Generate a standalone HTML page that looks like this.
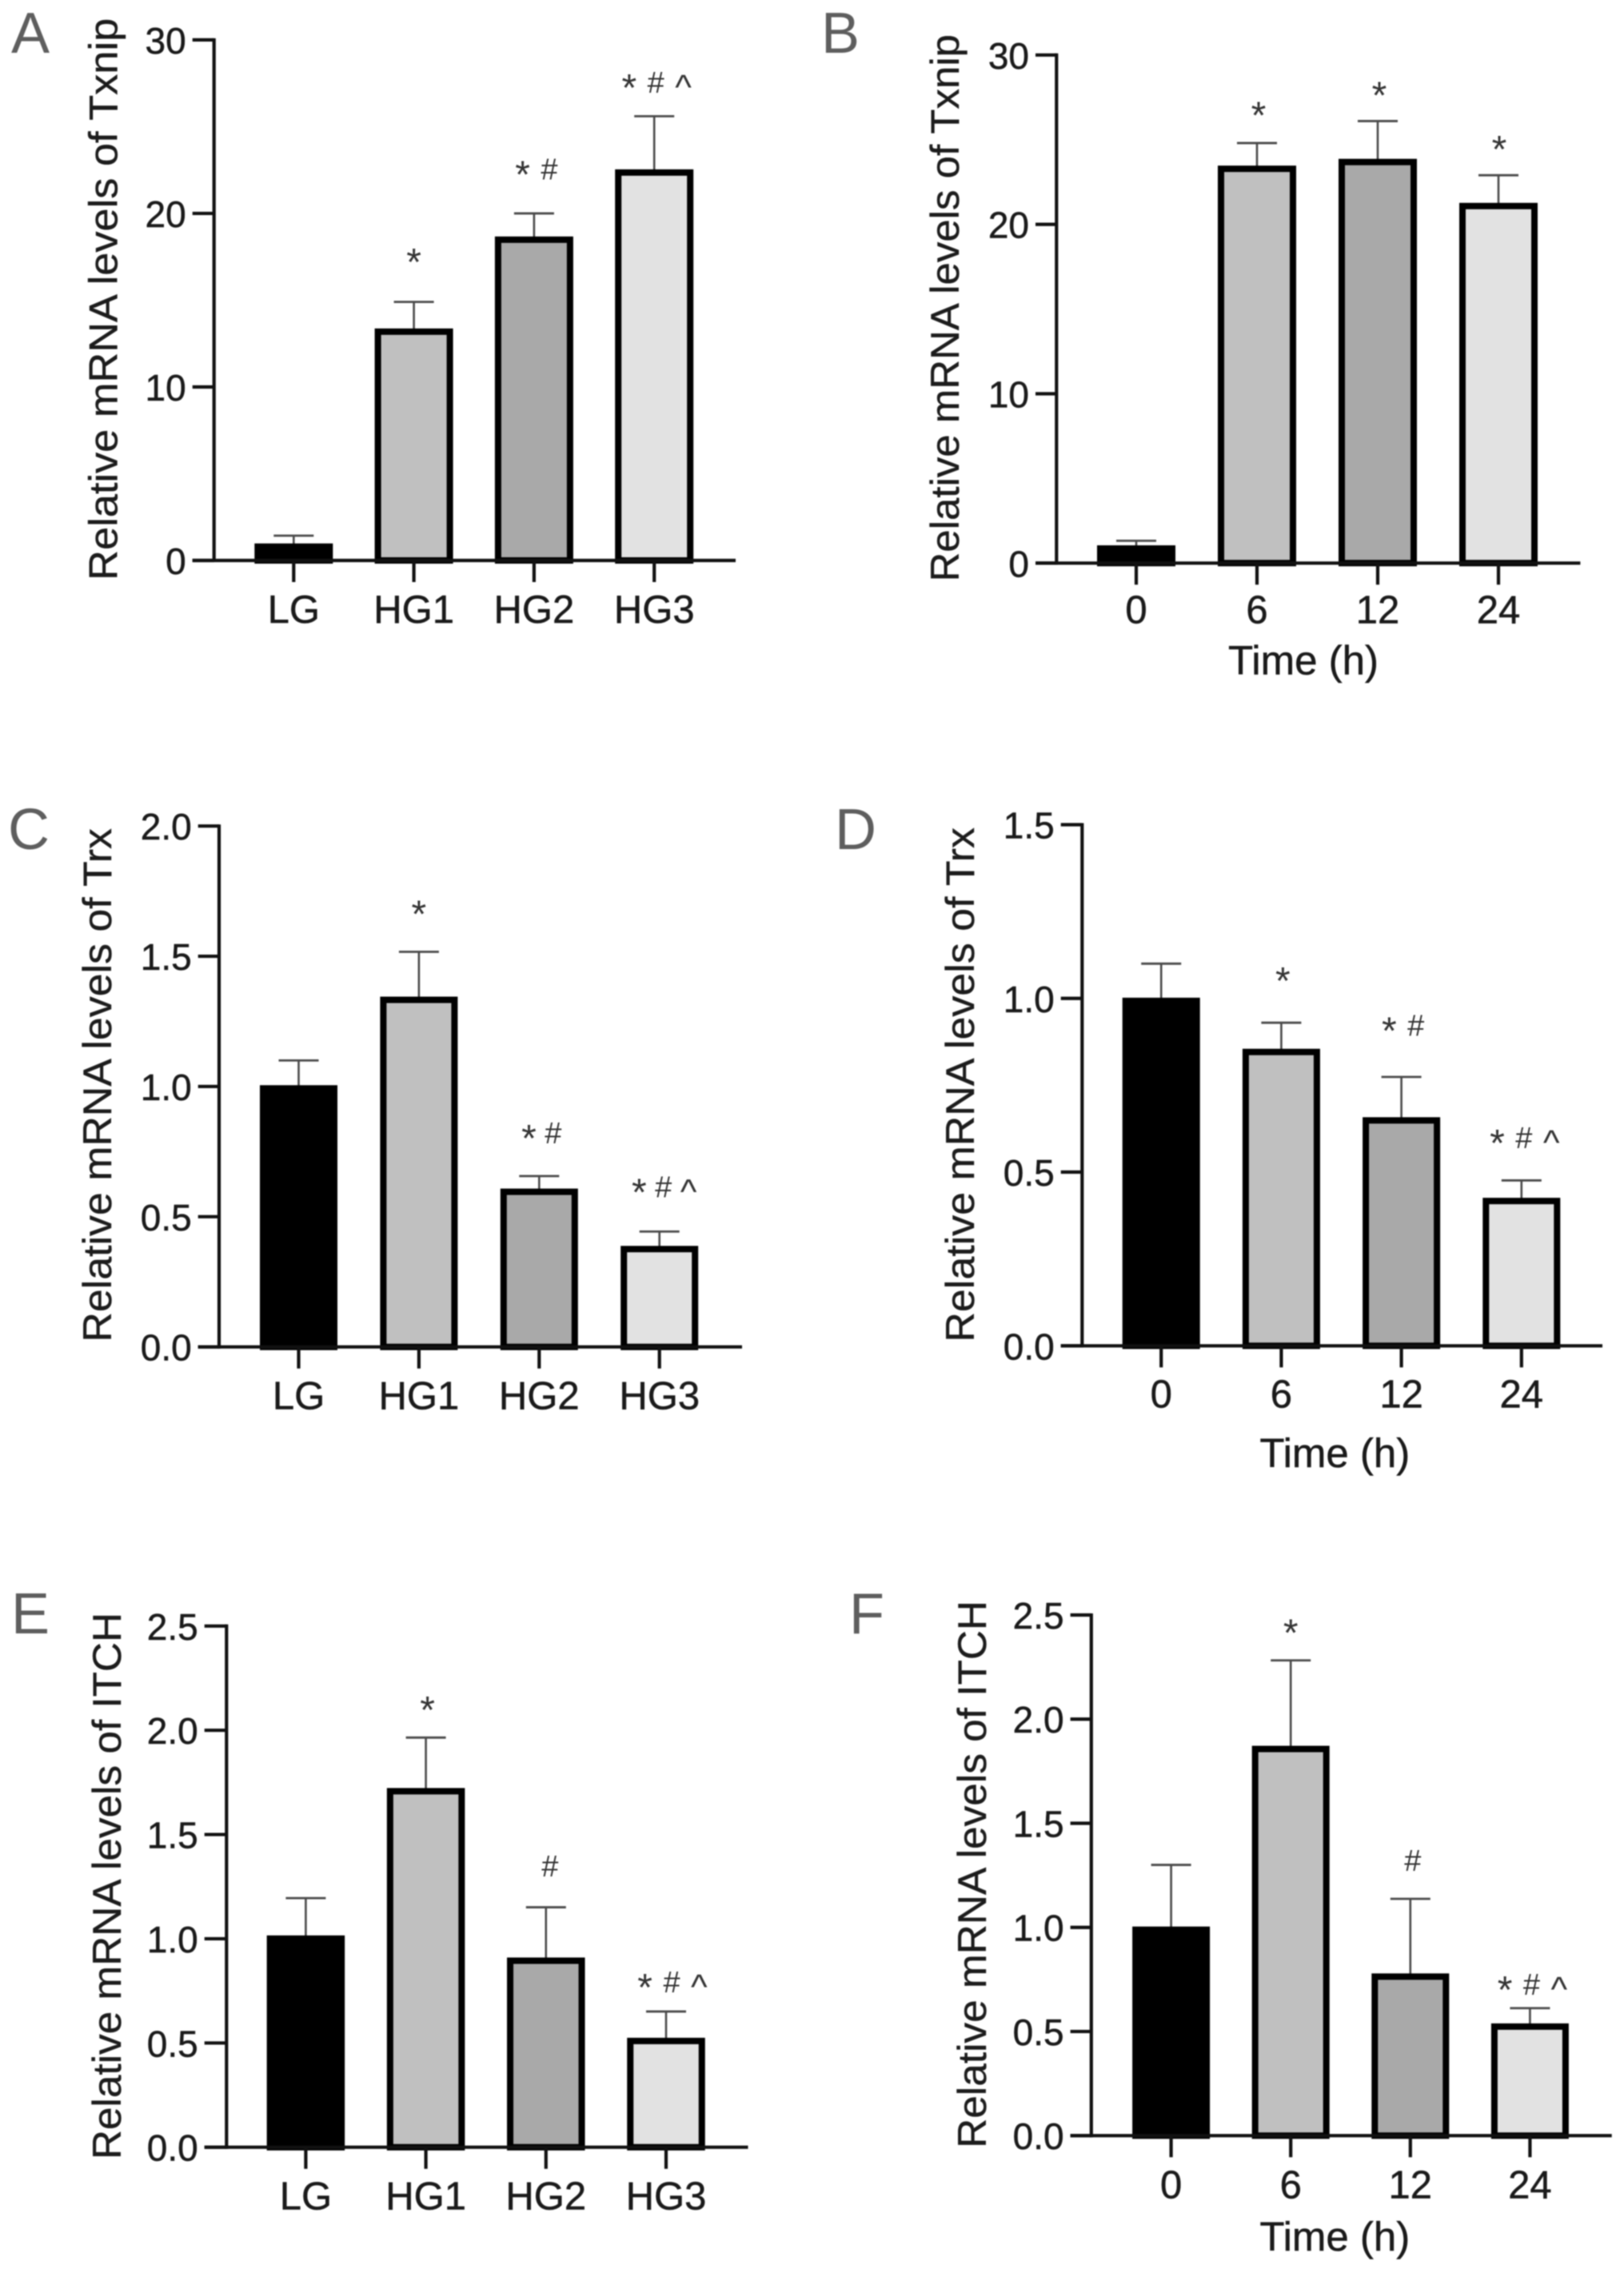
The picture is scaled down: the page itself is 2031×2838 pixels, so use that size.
<!DOCTYPE html>
<html lang="en">
<head>
<meta charset="utf-8">
<title>Relative mRNA levels of Txnip, Trx and ITCH</title>
<style>
html,body{margin:0;padding:0;background:#fff;}
svg{display:block;filter:blur(0.7px);}
text{font-family:"Liberation Sans",Arial,sans-serif;white-space:pre;}
</style>
</head>
<body>
<svg id="figure" xmlns="http://www.w3.org/2000/svg" width="2031" height="2838" viewBox="0 0 2031 2838">
<rect x="0" y="0" width="2031" height="2838" fill="#ffffff"></rect>
</svg>
<script>
const groupCategories = ['LG', 'HG1', 'HG2', 'HG3'];
const timeCategories = ['0', '6', '12', '24'];

const valuesA = [0.98, 13.37, 18.67, 22.54];
const errorsA = [0.45, 1.53, 1.33, 3.06];
const ticksA = [0, 10, 20, 30];
const tickLabelsA = ['0', '10', '20', '30'];
const marksA = ['', '*', '* #', '* # ^'];
const markLevelsA = [0, 17.46, 22.5, 27.5];

const valuesB = [1.05, 23.47, 23.87, 21.27];
const errorsB = [0.27, 1.33, 2.23, 1.63];
const ticksB = [0, 10, 20, 30];
const tickLabelsB = ['0', '10', '20', '30'];
const marksB = ['', '*', '*', '*'];
const markLevelsB = [0, 26.7, 27.9, 24.7];

const valuesC = [1.005, 1.345, 0.608, 0.388];
const errorsC = [0.095, 0.172, 0.048, 0.055];
const ticksC = [0, 0.5, 1, 1.5, 2];
const tickLabelsC = ['0.0', '0.5', '1.0', '1.5', '2.0'];
const marksC = ['', '*', '* #', '* # ^'];
const markLevelsC = [0, 1.68, 0.818, 0.612];

const valuesD = [1.002, 0.855, 0.658, 0.426];
const errorsD = [0.098, 0.075, 0.116, 0.05];
const ticksD = [0, 0.5, 1, 1.5];
const tickLabelsD = ['0.0', '0.5', '1.0', '1.5'];
const marksD = ['', '*', '* #', '* # ^'];
const markLevelsD = [0, 1.064, 0.92, 0.597];

const valuesE = [1.016, 1.723, 0.91, 0.525];
const errorsE = [0.179, 0.242, 0.241, 0.126];
const ticksE = [0, 0.5, 1, 1.5, 2, 2.5];
const tickLabelsE = ['0.0', '0.5', '1.0', '1.5', '2.0', '2.5'];
const marksE = ['', '*', '#', '* # ^'];
const markLevelsE = [0, 2.12, 1.345, 0.788];

const valuesF = [1.004, 1.872, 0.779, 0.539];
const errorsF = [0.296, 0.41, 0.358, 0.073];
const ticksF = [0, 0.5, 1, 1.5, 2, 2.5];
const tickLabelsF = ['0.0', '0.5', '1.0', '1.5', '2.0', '2.5'];
const marksF = ['', '*', '#', '* # ^'];
const markLevelsF = [0, 2.436, 1.317, 0.722];

const barFills = ['#000000', '#c0c0c0', '#a9a9a9', '#e2e2e2'];
const NS = 'http://www.w3.org/2000/svg';
const svg = document.getElementById('figure');
const glyphSize = { '*': 48, '#': 38, '^': 44 };
const glyphShift = { '*': 10, '#': 0, '^': 8 };

const panels = [
  { id:'a', letter:'A', letterX:38, letterY:66, title:'Relative mRNA levels of Txnip', titleX:146.7, titleY:725.8, titleLen:703,
    cats:groupCategories, values:valuesA, errors:errorsA, ticks:ticksA, tickLabels:tickLabelsA, marks:marksA, levels:markLevelsA,
    axisX:267.7, tickLeft:240.7, y0:701, yTop:49.9, xEnd:920, first:367.3, step:150.3, barW:98, labelY:779, markDx:[0,0,3,3], markGap:4 },
  { id:'b', letter:'B', letterX:1051, letterY:66, title:'Relative mRNA levels of Txnip', titleX:1198.8, titleY:727.5, titleLen:684.5,
    cats:timeCategories, values:valuesB, errors:errorsB, ticks:ticksB, tickLabels:tickLabelsB, marks:marksB, levels:markLevelsB,
    axisX:1321.3, tickLeft:1295, y0:704.3, yTop:68.8, xEnd:1976.4, first:1421, step:151, barW:98, labelY:779.5, markDx:[0,2,2,1], markGap:4,
    xTitleX:1630, xTitleY:843.4 },
  { id:'c', letter:'C', letterX:36, letterY:1062, title:'Relative mRNA levels of Trx', titleX:139, titleY:1678.6, titleLen:642.6,
    cats:groupCategories, values:valuesC, errors:errorsC, ticks:ticksC, tickLabels:tickLabelsC, marks:marksC, levels:markLevelsC,
    axisX:274, tickLeft:247.7, y0:1684.7, yTop:1033.2, xEnd:928, first:373.5, step:150.4, barW:97, labelY:1762.7, markDx:[0,0,3,6], markGap:1 },
  { id:'d', letter:'D', letterX:1070, letterY:1062, title:'Relative mRNA levels of Trx', titleX:1217.8, titleY:1678.6, titleLen:643.6,
    cats:timeCategories, values:valuesD, errors:errorsD, ticks:ticksD, tickLabels:tickLabelsD, marks:marksD, levels:markLevelsD,
    axisX:1353.3, tickLeft:1326.7, y0:1683.3, yTop:1031.5, xEnd:2004, first:1452.2, step:150.2, barW:97, labelY:1760.7, markDx:[0,2,2,4], markGap:4,
    xTitleX:1669.3, xTitleY:1835 },
  { id:'e', letter:'E', letterX:38, letterY:2043, title:'Relative mRNA levels of ITCH', titleX:151, titleY:2701, titleLen:684,
    cats:groupCategories, values:valuesE, errors:errorsE, ticks:ticksE, tickLabels:tickLabelsE, marks:marksE, levels:markLevelsE,
    axisX:283.3, tickLeft:255.7, y0:2685.7, yTop:2033.8, xEnd:935.5, first:382.4, step:150.2, barW:97.5, labelY:2763.3, markDx:[0,2,5,8], markGap:4 },
  { id:'f', letter:'F', letterX:1084, letterY:2043, title:'Relative mRNA levels of ITCH', titleX:1232.9, titleY:2686.7, titleLen:684.7,
    cats:timeCategories, values:valuesF, errors:errorsF, ticks:ticksF, tickLabels:tickLabelsF, marks:marksF, levels:markLevelsF,
    axisX:1364.8, tickLeft:1338.6, y0:2671.2, yTop:2020, xEnd:2015.7, first:1464.6, step:149.6, barW:97, labelY:2749.5, markDx:[0,0,3,3], markGap:4,
    xTitleX:1669.3, xTitleY:2815 }
];

function make(tag, parent, props) {
  const node = document.createElementNS(NS, tag);
  for (const key in props) node.setAttribute(key, props[key]);
  parent.appendChild(node);
  return node;
}

panels.forEach(function (p) {
  const yMax = p.ticks[p.ticks.length - 1];
  const yScale = function (v) { return p.y0 - (v / yMax) * (p.y0 - p.yTop); };
  const xScale = function (i) { return p.first + i * p.step; };

  const group = make('g', svg, {});
  
  

  const letter = make('text', group, { x:p.letterX, y:p.letterY, 'text-anchor':'middle', 'font-size':72, fill:'#5e5e5e' });
  letter.textContent = p.letter;
  
  

  const title = make('text', group, { x:p.titleX, y:p.titleY, 'font-size':50, fill:'#1c1c1c', stroke:'#1c1c1c', 'stroke-width':0.4,
    transform:'rotate(-90 ' + p.titleX + ' ' + p.titleY + ')', textLength:p.titleLen, lengthAdjust:'spacingAndGlyphs' });
  title.textContent = p.title;
  
  

  // Bars and error bars
  p.values.forEach(function (v, i) {
    const cx = xScale(i);
    const topErr = yScale(v + p.errors[i]);
    const topBar = yScale(v);

    const stem = make('line', group, { x1:cx, x2:cx, y1:topErr, y2:topBar + 2, stroke:'#4a4a4a', 'stroke-width':2.6 });
    
    

    const cap = make('line', group, { x1:cx - 25, x2:cx + 25, y1:topErr, y2:topErr, stroke:'#4a4a4a', 'stroke-width':2.8 });
    
    

    const sw = 8;
    const bar = make('rect', group, { x:cx - p.barW / 2 + sw / 2, y:topBar + sw / 2,
      width:p.barW - sw, height:Math.max(p.y0 - topBar - sw / 2, 0), fill:barFills[i], stroke:'#000000', 'stroke-width':sw });
    
    

    const tick = make('line', group, { x1:cx, x2:cx, y1:p.y0, y2:p.y0 + 27, stroke:'#111111', 'stroke-width':4.2 });
    
    

    const label = make('text', group, { x:cx, y:p.labelY, 'text-anchor':'middle', 'font-size':49, fill:'#1a1a1a', stroke:'#1a1a1a', 'stroke-width':0.5 });
    label.textContent = p.cats[i];
    
    

    if (p.marks[i]) {
      const mark = make('text', group, { x:cx + p.markDx[i], y:yScale(p.levels[i]) + 12, 'text-anchor':'middle',
        fill:'#333333', 'word-spacing':p.markGap });
      let shift = 0;
      p.marks[i].split(' ').forEach(function (token, t) {
        if (t > 0) {
          const gap = make('tspan', mark, { 'font-size':34, dy:-shift });
          gap.textContent = ' ';
          shift = 0;
        }
        const target = glyphShift[token];
        const span = make('tspan', mark, { 'font-size':glyphSize[token], dy:target - shift });
        span.textContent = token;
        shift = target;
      });
      
      
    }
  });

  // Axes
  const yAxis = make('line', group, { x1:p.axisX, x2:p.axisX, y1:p.yTop - 2, y2:p.y0 + 2, stroke:'#111111', 'stroke-width':4.2 });
  
  

  const xAxis = make('line', group, { x1:p.tickLeft, x2:p.xEnd, y1:p.y0, y2:p.y0, stroke:'#111111', 'stroke-width':4.2 });
  
  

  p.ticks.forEach(function (t, i) {
    const y = yScale(t);
    const tick = make('line', group, { x1:p.tickLeft, x2:p.axisX, y1:y, y2:y, stroke:'#111111', 'stroke-width':4.2 });
    
    

    const label = make('text', group, { x:p.tickLeft - 8, y:y + 17, 'text-anchor':'end', 'font-size':46, fill:'#1a1a1a', stroke:'#1a1a1a', 'stroke-width':0.5 });
    label.textContent = p.tickLabels[i];
    
    
  });

  if (p.xTitleX) {
    const xTitle = make('text', group, { x:p.xTitleX, y:p.xTitleY, 'text-anchor':'middle', 'font-size':51, fill:'#1a1a1a', stroke:'#1a1a1a', 'stroke-width':0.5 });
    xTitle.textContent = 'Time (h)';
    
    
  }
});
</script>
</body>
</html>
